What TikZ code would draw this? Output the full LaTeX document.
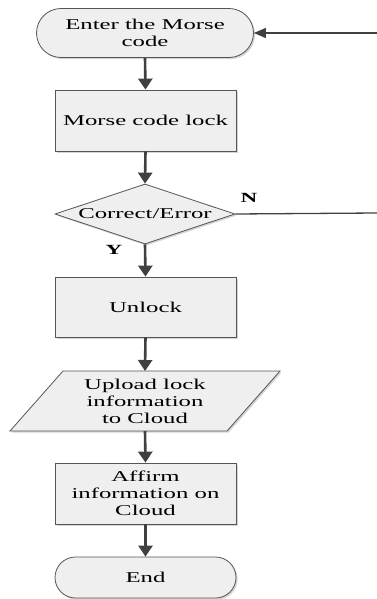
\documentclass[tikz,border=0pt]{standalone}
\usepackage{fontspec}
\setmainfont[FakeStretch=1.65]{Liberation Serif}
\usetikzlibrary{shapes.misc,shapes.geometric,arrows.meta,shadows}

\definecolor{boxfill}{HTML}{EFEFEF}
\definecolor{boxline}{HTML}{555555}
\definecolor{flowline}{HTML}{404040}
\definecolor{shadowgray}{HTML}{D4D4D4}

\tikzset{
  shade box/.style={fill=boxfill, draw=boxline, line width=0.8pt,
    drop shadow={shadow xshift=1.6pt, shadow yshift=-1.6pt, fill=shadowgray, opacity=1}},
  procbox/.style={shade box, rectangle, minimum width=181pt, inner sep=0pt,
    align=center, font=\fontsize{15}{17}\selectfont},
  termbox/.style={shade box, rounded rectangle, inner sep=0pt,
    align=center, font=\fontsize{15}{17}\selectfont},
  flowtext/.style={align=center, font=\fontsize{15}{17}\selectfont, inner sep=0pt},
  mainflow/.style={draw=flowline, line width=2.6pt,
    -{Triangle[width=14pt,length=11pt]}},
  backflow/.style={draw=flowline, line width=1.3pt},
  backarrow/.style={backflow, -{Triangle[width=10pt,length=12pt]}},
  branch/.style={font=\bfseries\fontsize{14}{16}\selectfont, inner sep=0pt}
}

\begin{document}
\begin{tikzpicture}[x=1pt, y=-1pt]
  \useasboundingbox (0,0) rectangle (377,599);

  % start terminator
  \node[termbox, minimum width=217pt, minimum height=49pt] (start) at (145,33)
    {Enter the Morse\\code};

  % lock process
  \node[procbox, minimum height=61pt] (lock) at (145.5,120.5) {Morse code lock};

  % decision
  \node[shade box, diamond, minimum width=180pt, minimum height=60pt, inner sep=0pt]
    (dec) at (145,214) {};
  \node[flowtext] (dectext) at (145,214) {Correct/Error};

  % unlock
  \node[procbox, minimum height=60pt] (unlock) at (145.5,307) {Unlock};

  % upload (data parallelogram)
  \coordinate (p1) at (63,371);
  \coordinate (p2) at (280,371);
  \coordinate (p3) at (227,431);
  \coordinate (p4) at (10,431);
  \fill[shadowgray] ([shift={(1.6,1.6)}]p1) -- ([shift={(1.6,1.6)}]p2)
    -- ([shift={(1.6,1.6)}]p3) -- ([shift={(1.6,1.6)}]p4) -- cycle;
  \draw[fill=boxfill, draw=boxline, line width=0.8pt] (p1) -- (p2) -- (p3) -- (p4) -- cycle;
  \node[flowtext] (upload) at (145,401) {Upload lock\\information\\to Cloud};
  \coordinate (uptop) at (145,371);
  \coordinate (upbot) at (145,431);

  % affirm
  \node[procbox, minimum height=61pt] (affirm) at (145.5,493.5)
    {Affirm\\information on\\Cloud};

  % end terminator
  \node[termbox, minimum width=181pt, minimum height=41pt] (end) at (145.5,577.5) {End};

  % loop-back inputs from the right
  \coordinate (rin) at (377,33);
  \coordinate (rout) at (377,213);

  % main flow
  \draw[mainflow] (start.south) -- (lock.north);
  \draw[mainflow] (lock.south) -- (dec.north);
  \draw[mainflow] (dec.south) -- (unlock.north);
  \draw[mainflow] (unlock.south) -- (uptop);
  \draw[mainflow] (upbot) -- (affirm.north);
  \draw[mainflow] (affirm.south) -- (end.north);

  % return path
  \draw[backarrow] (rin) -- (start.east);
  \draw[backflow] (dec.east) -- (rout);

  % branch labels
  \node[branch] (nlabel) at (249,198) {N};
  \node[branch] (ylabel) at (114,250) {Y};
\end{tikzpicture}
\end{document}
